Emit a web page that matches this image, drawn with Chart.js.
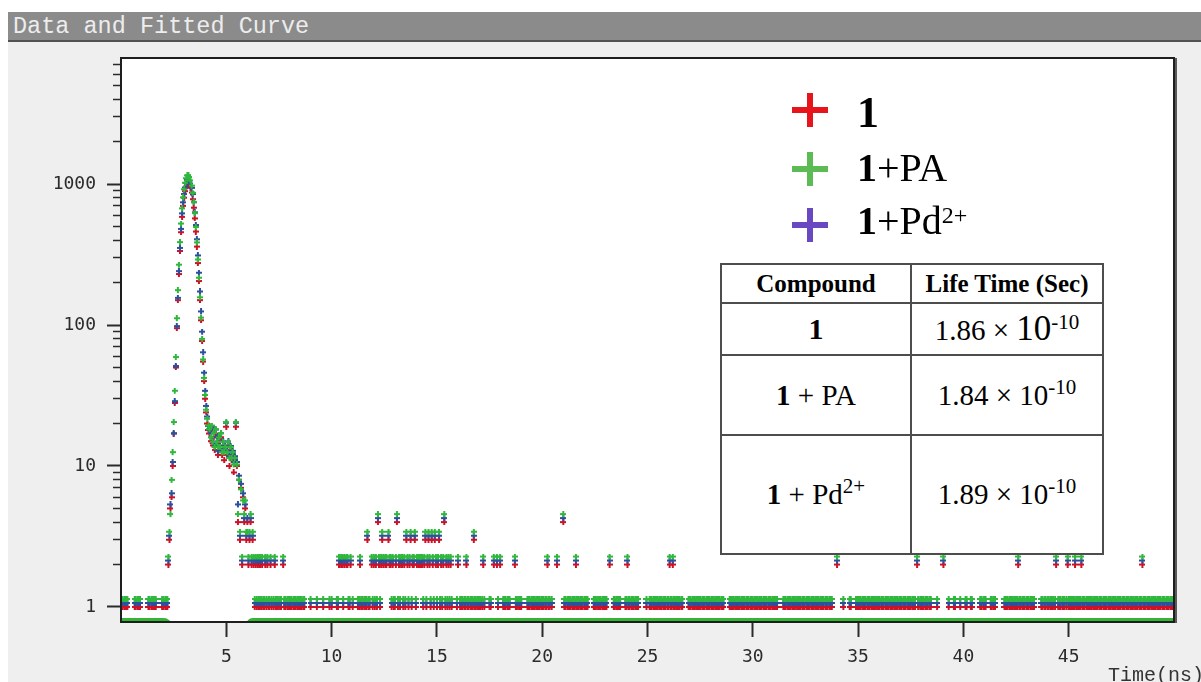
<!DOCTYPE html>
<html>
<head>
<meta charset="utf-8">
<title>Data and Fitted Curve</title>
<script src="https://cdn.jsdelivr.net/npm/chart.js@4.4.1/dist/chart.umd.min.js"></script>
<style>
  html, body { margin: 0; padding: 0; background: #fff; }
  #page { position: relative; width: 1201px; height: 682px; overflow: hidden; background: #fff; }
  #panel { position: absolute; left: 8px; top: 42px; width: 1193px; height: 640px; background: #efefef; }
  #titlebar { position: absolute; left: 8px; top: 12px; width: 1193px; height: 28px; background: #8b8b8b; border-bottom: 2px solid #525252; }
  #titlebar span { position: absolute; left: 5px; top: 1px; font: 23.5px 'Liberation Mono', monospace; line-height: 28px; color: #ededed; white-space: pre; }
  #decay { position: absolute; left: 0; top: 0; }
  #xtitle { position: absolute; left: 1108px; top: 666px; font: 20px 'Liberation Mono', monospace; line-height: 20px; color: #333; white-space: pre; }

  .key-mark { position: absolute; width: 36px; height: 34px; }
  .key-mark::before { content: ''; position: absolute; left: 0; top: 14px; width: 36px; height: 6px; background: var(--c); }
  .key-mark::after { content: ''; position: absolute; left: 15px; top: 0; width: 6px; height: 34px; background: var(--c); }
  .key-text { position: absolute; left: 857px; font-family: 'Liberation Serif', serif; color: #000; white-space: nowrap; }
  .key-text sup { font-size: 24px; vertical-align: 11px; line-height: 0; }

  #lifetimes { position: absolute; left: 720px; top: 263px; width: 382px; height: 290px; border-collapse: collapse; table-layout: fixed; background: #fff; font-family: 'Liberation Serif', serif; color: #000; }
  #lifetimes th, #lifetimes td { border: 2px solid #4d4d4d; padding: 0; text-align: center; vertical-align: middle; white-space: nowrap; }
  #lifetimes th { font-size: 25px; font-weight: bold; }
  #lifetimes td { font-size: 29px; }
  #lifetimes td sup { font-size: 21px; vertical-align: 11px; line-height: 0; }
  #lifetimes .big { font-size: 35px; }
</style>
</head>
<body>
<div id="page">
  <div id="titlebar"><span>Data and Fitted Curve</span></div>
  <div id="panel"></div>
  <canvas id="decay" width="1201" height="682"></canvas>
  <div id="xtitle">Time(ns)</div>

  <div class="key-mark" style="--c:#e8141c; left:792px; top:93px;"></div>
  <div class="key-text" style="top:91px; font-size:44px; line-height:44px;"><b>1</b></div>
  <div class="key-mark" style="--c:#5dbb55; left:792px; top:152px;"></div>
  <div class="key-text" style="top:148px; font-size:40px; line-height:40px;"><b>1</b>+PA</div>
  <div class="key-mark" style="--c:#6a48c2; left:792px; top:208px;"></div>
  <div class="key-text" style="top:201px; font-size:40px; line-height:40px;"><b>1</b>+Pd<sup>2+</sup></div>

  <table id="lifetimes">
    <colgroup><col style="width:190px"><col style="width:192px"></colgroup>
    <tr style="height:39px"><th>Compound</th><th>Life Time (Sec)</th></tr>
    <tr style="height:52px"><td style="font-size:30px"><b>1</b></td><td>1.86 × <span class="big">10</span><sup>-10</sup></td></tr>
    <tr style="height:80px"><td><b>1</b> + PA</td><td>1.84 × 10<sup>-10</sup></td></tr>
    <tr style="height:119px"><td><b>1</b> + Pd<sup>2+</sup></td><td>1.89 × 10<sup>-10</sup></td></tr>
  </table>
</div>

<script>
// ---- measured photon counts -------------------------------------------------
// Channel width of the decay histogram (ns).
const binWidthNs = 0.05;

// Background counts shared by the three samples: one string per nanosecond,
// 20 channels each (digit = counts in that channel).
const backgroundByNs = [
  "11011110000001101110", "00000011011111000001", "10111000000000000000", "00000000000000000000",
  "00000000000000000000", "00000000000000000000", "02342321212121211212", "11210121110110211011",
  "11101110111101100000", "10000010000010000010", "10000112022120221120", "10000112110111311021",
  "21214212320220322121", "12412122121321231223", "12022221231232132132", "12312124121212100001",
  "20111011211011131101", "11012100001100200210", "20011101110000211011", "10000011101111011101",
  "11011211010000200000", "41101111011121101110", "11110000011101110111", "11002000110111100001",
  "12110111011100000001", "00111011110111011101", "12112110111011000001", "11011101111011101111",
  "01110111101110000011", "11101111011110111011", "10111011101111011101", "11110000011101111011",
  "10111101110111101110", "11101111011101110000", "20000010000011000011", "11101111011101111011",
  "10111011110111011101", "11011101111011102101", "11101110110000010000", "02000010000110000100",
  "00110001100000001101", "11000011011000000001", "11101111011121101110", "11101111000000110110",
  "11011101201110111012", "11111121111121110111", "11101111011101111011", "10111011110111011101",
  "11011101112111011101", "11101111011101110111"
];

// Excitation peak, channels from 2.25 ns to 6.00 ns.
const peakStartNs = 2.25;
const peakCounts1 = [
  2, 3, 5, 6, 10, 17, 28, 50, 95, 150, 230, 335, 455, 585, 700,
  800, 890, 960, 1005, 1015, 990, 940, 870, 780, 680, 570, 460, 360, 275, 205,
  150, 108, 77, 55, 40, 30, 24, 20, 18,
  17, 15, 18, 14, 16, 13, 17, 14, 12, 15, 13, 16, 12, 14, 11, 13, 19, 12, 14,
  10, 13, 11, 12, 9, 11, 19, 10, 4, 8, 3, 7, 2, 6, 4, 5, 3, 4
];
const peakCountsPA = [
  2, 3, 4, 7, 11, 18, 30, 52, 98, 155, 235, 340, 460, 590, 705,
  805, 895, 965, 1010, 1015, 985, 930, 855, 760, 655, 545, 435, 338, 256, 190,
  138, 99, 70, 50, 37, 28, 22, 19, 17,
  16, 14, 17, 13, 15, 12, 16, 13, 12, 14, 12, 15, 11, 13, 11, 12, 18, 11, 13,
  10, 12, 10, 11, 9, 10, 18, 9, 4, 7, 3, 6, 2, 5, 4, 5, 3, 3
];
const peakCountsPd = [
  2, 3, 5, 6, 10, 16, 27, 48, 92, 146, 226, 330, 450, 580, 695,
  795, 885, 955, 1000, 1012, 992, 945, 880, 795, 695, 590, 480, 380, 292, 220,
  162, 117, 84, 60, 43, 32, 25, 21, 18,
  17, 16, 18, 14, 17, 13, 17, 15, 12, 15, 13, 16, 12, 14, 12, 13, 19, 12, 14,
  11, 13, 11, 12, 10, 11, 19, 10, 5, 8, 3, 7, 2, 6, 4, 5, 3, 4
];

// Fitted baseline drawn along the bottom of the plot.
const fitTimeNs = [0, 2.0, 2.2, 2.4, 2.6, 5.7, 5.95, 6.1, 6.25, 50];
const fitCounts = [0.815, 0.815, 0.8, 0.72, 0.5, 0.5, 0.72, 0.8, 0.815, 0.815];

// Axis ticks.
const xTickValues = [5, 10, 15, 20, 25, 30, 35, 40, 45];
const yDecades = [1, 10, 100, 1000];

// ---- building the datasets --------------------------------------------------
function decayPoints(peak) {
  const pts = [];
  backgroundByNs.forEach((row, ns) => {
    for (let i = 0; i < row.length; i++) {
      const t = +(ns + i * binWidthNs).toFixed(2);
      const k = Math.round((t - peakStartNs) / binWidthNs);
      const n = (k >= 0 && k < peak.length) ? peak[k] : Number(row[i]);
      if (n > 0) pts.push({ x: t, y: n });
    }
  });
  return pts;
}

// Small "+" marker; the lift raises it above the point so the three samples stack.
function crossMarker(color, lift) {
  const c = document.createElement('canvas');
  c.width = 6;
  c.height = 6 + 2 * lift;
  const g = c.getContext('2d');
  g.fillStyle = color;
  g.fillRect(0, 2, 6, 2);
  g.fillRect(2, 0, 2, 6);
  return c;
}

const Y_MIN = 0.7825, Y_MAX = 7830;
const yTicks = [];
yDecades.forEach(d => { for (let m = 1; m <= 9; m++) if (d * m <= Y_MAX) yTicks.push(d * m); });

const tickFont = { family: "'DejaVu Sans Mono', monospace", size: 18 };

const plotFrame = {
  id: 'plotFrame',
  beforeDraw(chart) {
    const a = chart.chartArea, ctx = chart.ctx;
    ctx.save();
    ctx.fillStyle = '#ffffff';
    ctx.fillRect(a.left, a.top, a.right - a.left, a.bottom - a.top);
    ctx.restore();
  },
  afterDatasetsDraw(chart) {
    const a = chart.chartArea, ctx = chart.ctx;
    ctx.save();
    ctx.strokeStyle = '#1e1e1e';
    ctx.lineWidth = 2;
    ctx.strokeRect(a.left, a.top, a.right - a.left, a.bottom - a.top);
    ctx.strokeStyle = '#5a5a5a';
    ctx.beginPath();
    ctx.moveTo(a.right + 2, a.top);
    ctx.lineTo(a.right + 2, a.bottom + 1);
    ctx.stroke();
    ctx.restore();
  }
};

new Chart(document.getElementById('decay'), {
  type: 'scatter',
  data: {
    datasets: [
      { label: '1+PA', data: decayPoints(peakCountsPA), pointStyle: crossMarker('#2fb83c', 8), pointRadius: 3 },
      { label: '1+Pd2+', data: decayPoints(peakCountsPd), pointStyle: crossMarker('#2c4f9e', 4), pointRadius: 3 },
      { label: '1', data: decayPoints(peakCounts1), pointStyle: crossMarker('#cf1126', 0), pointRadius: 3 },
      {
        type: 'line', label: 'fit',
        data: fitTimeNs.map((t, i) => ({ x: t, y: fitCounts[i] })),
        borderColor: '#35b535', borderWidth: 3, pointRadius: 0, showLine: true,
        cubicInterpolationMode: 'monotone', clip: 0
      }
    ]
  },
  options: {
    responsive: false,
    animation: false,
    events: [],
    layout: { padding: { left: 0, top: 58, right: 27, bottom: 0 } },
    plugins: { legend: { display: false }, tooltip: { enabled: false } },
    scales: {
      x: {
        type: 'linear', min: 0, max: 50,
        afterBuildTicks: s => { s.ticks = xTickValues.map(v => ({ value: v })); },
        afterFit: s => { s.height = 60; },
        ticks: { font: tickFont, color: '#2b2b2b', padding: 10, autoSkip: false, maxRotation: 0, callback: v => String(v) },
        grid: { drawOnChartArea: false, tickLength: 15, tickColor: '#2a2a2a', tickWidth: 2 },
        border: { display: false }
      },
      y: {
        type: 'logarithmic', min: Y_MIN, max: Y_MAX,
        afterBuildTicks: s => { s.ticks = yTicks.map(v => ({ value: v })); },
        afterFit: s => { s.width = 121; },
        ticks: {
          font: tickFont, color: '#2b2b2b', padding: 11, autoSkip: false,
          callback: v => yDecades.includes(v) ? String(v) : ''
        },
        grid: {
          drawOnChartArea: false, tickLength: 14, tickColor: '#2a2a2a',
          tickWidth: ctx => yDecades.includes(ctx.tick && ctx.tick.value) ? 2 : 1.5,
          tickBorderDash: ctx => yDecades.includes(ctx.tick && ctx.tick.value) ? [] : [0, 6, 100]
        },
        border: { display: false }
      }
    }
  },
  plugins: [plotFrame]
});
</script>
</body>
</html>
